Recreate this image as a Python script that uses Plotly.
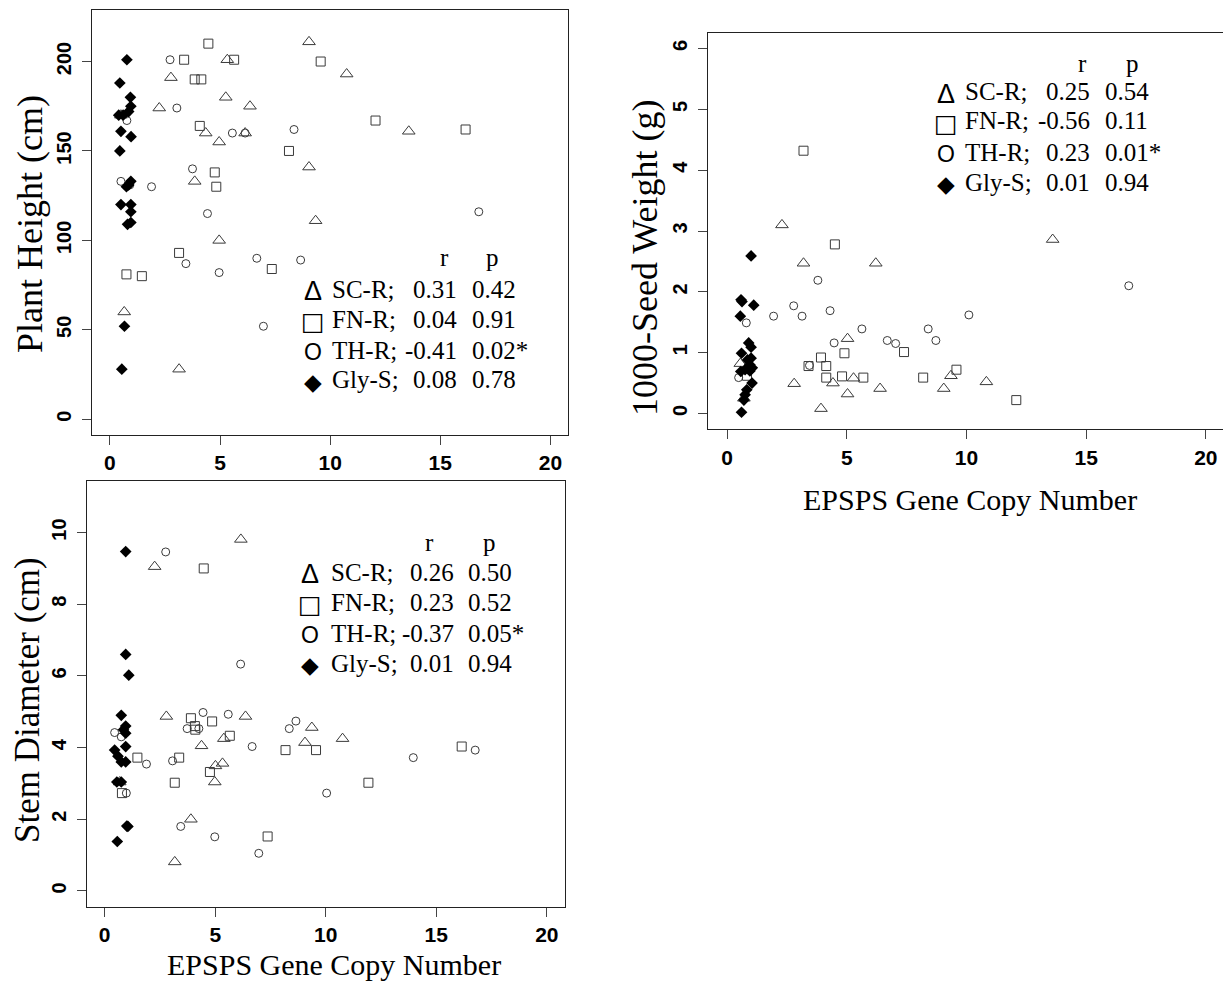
import plotly.graph_objects as go

W, H = 1231, 985
OFF = 8  # page body margin

# ---------------- data ----------------
# Panel A: Plant height (cm)
ph_sc_x = [9.04, 5.33, 2.77, 5.26, 2.24, 6.36, 0.5, 4.35, 6.14, 4.96, 9.04, 3.85, 9.34, 4.96, 0.65, 3.14, 10.75, 13.57]
ph_sc_y = [211, 201, 191, 180, 174, 175, 170, 160, 160, 155, 141, 133, 111, 100, 60, 28, 193, 161]
ph_fn_x = [4.47, 3.37, 5.64, 3.85, 4.15, 4.08, 8.13, 4.76, 4.83, 3.14, 7.35, 0.75, 1.45, 9.57, 12.06, 16.15]
ph_fn_y = [210, 201, 201, 190, 190, 164, 150, 138, 130, 93, 84, 81, 80, 200, 167, 162]
ph_th_x = [2.73, 3.04, 0.77, 5.56, 6.14, 8.36, 3.75, 0.5, 0.9, 1.89, 4.43, 3.45, 4.96, 6.67, 8.66, 6.97, 16.75]
ph_th_y = [201, 174, 167, 160, 160, 162, 140, 133, 131, 130, 115, 87, 82, 90, 89, 52, 116]
ph_gs_x = [0.77, 0.45, 0.93, 0.95, 0.85, 0.6, 0.4, 0.5, 0.96, 0.45, 0.95, 0.85, 0.75, 0.5, 0.95, 0.95, 0.95, 0.8, 0.66, 0.54]
ph_gs_y = [201, 188, 180, 175, 172, 170, 170, 161, 158, 150, 133, 131, 130, 120, 120, 116, 110, 109, 52, 28]

# Panel B: 1000-seed weight (g)
sw_sc_x = [2.29, 3.19, 6.21, 5.03, 2.8, 4.42, 5.28, 5.03, 6.39, 3.92, 0.55, 0.7, 9.05, 9.35, 10.83, 13.6]
sw_sc_y = [3.1, 2.47, 2.47, 1.23, 0.49, 0.5, 0.58, 0.32, 0.41, 0.08, 0.82, 0.25, 0.41, 0.62, 0.52, 2.86]
sw_fn_x = [3.19, 4.5, 4.9, 3.92, 4.14, 3.4, 7.39, 4.14, 4.8, 5.69, 8.19, 0.83, 9.58, 12.08]
sw_fn_y = [4.32, 2.78, 0.99, 0.92, 0.78, 0.78, 1.01, 0.59, 0.61, 0.59, 0.59, 0.62, 0.72, 0.22]
sw_th_x = [3.79, 2.78, 1.94, 3.13, 4.3, 0.8, 5.63, 4.47, 6.69, 7.04, 8.4, 8.72, 3.44, 0.48, 10.1, 16.78]
sw_th_y = [2.19, 1.77, 1.6, 1.6, 1.69, 1.49, 1.39, 1.16, 1.2, 1.15, 1.39, 1.2, 0.79, 0.59, 1.62, 2.1]
sw_gs_x = [1.0, 0.58, 0.62, 1.11, 0.55, 0.9, 1.0, 0.6, 1.0, 0.85, 0.95, 1.05, 0.75, 0.95, 0.57, 1.04, 0.82, 0.75, 0.7, 0.6]
sw_gs_y = [2.59, 1.87, 1.84, 1.78, 1.6, 1.16, 1.09, 0.99, 0.91, 0.88, 0.8, 0.75, 0.72, 0.7, 0.69, 0.5, 0.39, 0.31, 0.22, 0.02]

# Panel C: Stem diameter (cm)
sd_sc_x = [6.16, 2.26, 2.79, 6.37, 9.37, 9.06, 5.39, 4.38, 5.33, 5.01, 4.98, 0.68, 3.9, 3.17, 10.76]
sd_sc_y = [9.81, 9.05, 4.87, 4.87, 4.56, 4.14, 4.25, 4.05, 3.56, 3.49, 3.04, 3.04, 2.0, 0.81, 4.25]
sd_fn_x = [4.48, 3.9, 4.08, 4.1, 4.86, 5.66, 1.48, 3.37, 8.18, 9.56, 4.76, 3.17, 0.78, 7.37, 16.15, 11.93]
sd_fn_y = [9.0, 4.82, 4.6, 4.5, 4.73, 4.33, 3.72, 3.72, 3.93, 3.93, 3.32, 3.02, 2.73, 1.52, 4.03, 3.02]
sd_th_x = [2.76, 6.15, 4.45, 5.59, 8.65, 8.35, 3.73, 4.26, 0.45, 0.75, 6.67, 1.89, 3.07, 0.98, 3.44, 4.98, 6.97, 10.04, 13.96, 16.76]
sd_th_y = [9.46, 6.33, 4.98, 4.93, 4.74, 4.53, 4.53, 4.53, 4.42, 4.3, 4.03, 3.54, 3.63, 2.73, 1.8, 1.51, 1.05, 2.73, 3.72, 3.93]
sd_gs_x = [0.95, 0.95, 1.09, 0.75, 0.95, 0.85, 0.95, 0.95, 0.45, 0.6, 0.75, 0.95, 0.55, 0.75, 1.0, 1.05, 0.57]
sd_gs_y = [9.47, 6.6, 6.02, 4.9, 4.6, 4.5, 4.4, 4.03, 3.93, 3.76, 3.6, 3.6, 3.04, 3.04, 1.81, 1.8, 1.38]

# legend statistics
groups = ["SC-R;", "FN-R;", "TH-R;", "Gly-S;"]
ph_r = ["0.31", "0.04", "-0.41", "0.08"]
ph_p = ["0.42", "0.91", "0.02*", "0.78"]
sw_r = ["0.25", "-0.56", "0.23", "0.01"]
sw_p = ["0.54", "0.11", "0.01*", "0.94"]
sd_r = ["0.26", "0.23", "-0.37", "0.01"]
sd_p = ["0.50", "0.52", "0.05*", "0.94"]

x_ticks = [0, 5, 10, 15, 20]
ph_ticks = [0, 50, 100, 150, 200]
sw_ticks = [0, 1, 2, 3, 4, 5, 6]
sd_ticks = [0, 2, 4, 6, 8, 10]

x_title = "EPSPS Gene Copy Number"
ph_title = "Plant Height (cm)"
sw_title = "1000-Seed Weight (g)"
sd_title = "Stem Diameter (cm)"

# ---------------- styling ----------------
SERIF = "Liberation Serif, Times New Roman, serif"
SANS = "Liberation Sans, Arial, sans-serif"
EDGE = "#3a3a3a"

styles = [
    dict(symbol="triangle-up-open", size=11, color=EDGE, line=dict(width=1, color=EDGE)),
    dict(symbol="square-open", size=9, color=EDGE, line=dict(width=1, color=EDGE)),
    dict(symbol="circle-open", size=8, color=EDGE, line=dict(width=1, color=EDGE)),
    dict(symbol="diamond", size=9, color="black", line=dict(width=0)),
]

def px(x):
    return (x - OFF) / W

def py(y):
    return 1 - (y - OFF) / H

fig = go.Figure()

panels = [
    dict(ax="", data=[(ph_sc_x, ph_sc_y), (ph_fn_x, ph_fn_y), (ph_th_x, ph_th_y), (ph_gs_x, ph_gs_y)],
         box=(92.3, 568.0, 10.0, 435.0), yr=[-8.8, 228.8], yt=ph_ticks),
    dict(ax="2", data=[(sw_sc_x, sw_sc_y), (sw_fn_x, sw_fn_y), (sw_th_x, sw_th_y), (sw_gs_x, sw_gs_y)],
         box=(708.0, 1225.0, 32.7, 429.3), yr=[-0.26, 6.26], yt=sw_ticks),
    dict(ax="3", data=[(sd_sc_x, sd_sc_y), (sd_fn_x, sd_fn_y), (sd_th_x, sd_th_y), (sd_gs_x, sd_gs_y)],
         box=(87.0, 564.5, 481.0, 906.7), yr=[-0.44, 11.44], yt=sd_ticks),
]

layout = dict(
    width=W, height=H, margin=dict(l=0, r=0, t=0, b=0),
    paper_bgcolor="white", plot_bgcolor="white", showlegend=False,
)

for p in panels:
    a = p["ax"]
    for (xs, ys), st in zip(p["data"], styles):
        fig.add_trace(go.Scatter(
            x=xs, y=ys, mode="markers", xaxis="x" + a, yaxis="y" + a,
            marker=dict(symbol=st["symbol"], size=st["size"], color=st["color"], line=st["line"]),
            hoverinfo="skip"))
    l, r, t, b = p["box"]
    common = dict(showline=True, mirror=True, linecolor="#222", linewidth=1, showgrid=False,
                  zeroline=False, ticks="outside", ticklen=9, tickwidth=1, tickcolor="#444")
    layout["xaxis" + a] = dict(common, domain=[px(l), px(r)], range=[-0.8, 20.8],
                               tickvals=x_ticks, anchor="y" + a,
                               tickfont=dict(family=SANS, size=21, color="black", weight="bold"),
                               ticklabelstandoff=0)
    layout["yaxis" + a] = dict(common, domain=[py(b), py(t)], range=p["yr"],
                               tickvals=p["yt"], anchor="x" + a, tickangle=-90,
                               tickfont=dict(family=SANS, size=20, color="black", weight="bold"),
                               ticklabelstandoff=3)

annotations = []

def ann(text, x, y, size, family=SERIF, xanchor="center", angle=0, color="black"):
    annotations.append(dict(text=text, x=px(x), y=py(y), xref="paper", yref="paper",
                            xanchor=xanchor, yanchor="middle", showarrow=False, textangle=angle,
                            font=dict(family=family, size=size, color=color)))

# axis titles
ann(ph_title, 30, 224, 36, angle=-90)
ann(sw_title, 645, 258, 36, angle=-90)
ann(sd_title, 27, 700, 35, angle=-90)
ann(x_title, 970, 499, 30)
ann(x_title, 334, 964, 30)

# legends
symbols = [("Δ", SANS, 27), ("□", "DejaVu Sans", 25), ("O", SANS, 23), ("◆", "DejaVu Sans", 23)]
legends = [
    dict(r=ph_r, p=ph_p, sym_x=313, name_x=330, r_x=411, p_x=470, hdr_y=258, r_hdr=444, p_hdr=492,
         rows=[289, 319, 350, 380]),
    dict(r=sw_r, p=sw_p, sym_x=946, name_x=963, r_x=1044, p_x=1103, hdr_y=63, r_hdr=1082, p_hdr=1132,
         rows=[92, 121, 152, 182]),
    dict(r=sd_r, p=sd_p, sym_x=310, name_x=329, r_x=408, p_x=466, hdr_y=542, r_hdr=429, p_hdr=489,
         rows=[572, 602, 633, 663]),
]
LSIZE = 25
for lg in legends:
    ann("r", lg["r_hdr"], lg["hdr_y"], LSIZE)
    ann("p", lg["p_hdr"], lg["hdr_y"], LSIZE)
    for i, g in enumerate(groups):
        y = lg["rows"][i]
        s, fam, sz = symbols[i]
        ann(s, lg["sym_x"], y + 2, sz, family=fam)
        ann(g, lg["name_x"], y, LSIZE, xanchor="left")
        rv = lg["r"][i]
        ann(rv, lg["r_x"] - (8 if rv.startswith("-") else 0), y, LSIZE, xanchor="left")
        ann(lg["p"][i], lg["p_x"], y, LSIZE, xanchor="left")

layout["annotations"] = annotations
fig.update_layout(**layout)
fig.write_html("out.html")
